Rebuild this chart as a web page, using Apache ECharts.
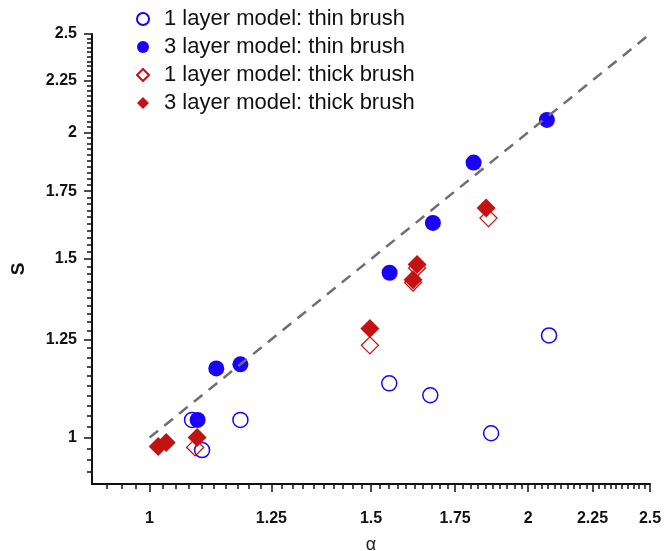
<!DOCTYPE html>
<html>
<head>
<meta charset="utf-8">
<script src="https://cdn.jsdelivr.net/npm/echarts@6/dist/echarts.min.js"></script>
<style>
  html, body { margin: 0; padding: 0; background: #fff; }
  #chart { width: 665px; height: 551px; }
</style>
</head>
<body>
<div id="chart"></div>
<script>
// data (alpha, S)
var thin1X = [1.081, 1.181, 1.101, 1.551, 1.672, 1.869, 2.078];
var thin1S = [1.041, 1.041, 0.972, 1.131, 1.101, 1.010, 1.261];
var thin3X = [1.092, 1.130, 1.181, 1.552, 1.680, 1.810, 2.070];
var thin3S = [1.041, 1.170, 1.181, 1.454, 1.628, 1.867, 2.057];
var thick1X = [1.087, 1.497, 1.620, 1.632, 1.860];
var thick1S = [0.978, 1.233, 1.422, 1.470, 1.646];
var thick3X = [1.016, 1.031, 1.091, 1.497, 1.620, 1.632, 1.852];
var thick3S = [0.980, 0.989, 1.000, 1.281, 1.431, 1.481, 1.684];
var refLine = [1, 2.5];

var majorTicks = [1, 1.25, 1.5, 1.75, 2, 2.25, 2.5];
var axisMin = 0.9, axisMax = 2.5;

var names = ['1 layer model: thin brush', '3 layer model: thin brush',
             '1 layer model: thick brush', '3 layer model: thick brush'];

// log axes are done with log10 of the values on a value axis
function lg(v) { return Math.log10(v); }
function pairs(xs, ys) { return xs.map(function (x, i) { return [lg(x), lg(ys[i])]; }); }

var minorTicks = [];
for (var t = 0.925; t < axisMax + 1e-9; t += 0.025) minorTicks.push(lg(+t.toFixed(3)));

var blue = '#1a00ff';
var red = '#c41212';
var font = 'Liberation Sans, Arial, sans-serif';

function mainAxis(isX) {
  return {
    type: 'value',
    min: lg(axisMin),
    max: lg(axisMax),
    name: isX ? 'α' : 'S',
    nameLocation: 'middle',
    nameGap: isX ? 52 : 64,
    nameTextStyle: isX
      ? { fontFamily: font, fontSize: 18, color: '#222' }
      : { fontFamily: font, fontSize: 19, fontWeight: 'bold', color: '#111', padding: [0, 20, 0, 0] },
    splitLine: { show: false },
    axisLine: { show: true, onZero: false, lineStyle: { color: '#111', width: 2 } },
    axisTick: { show: true, inside: false, length: 8, customValues: majorTicks.map(lg),
                lineStyle: { color: '#111', width: 1.5 } },
    axisLabel: {
      customValues: majorTicks.map(lg),
      margin: isX ? 27 : 15,
      fontFamily: font, fontSize: 16, fontWeight: 'bold', color: '#111',
      formatter: function (v) { return String(+Math.pow(10, v).toFixed(2)); }
    }
  };
}

function minorAxis(pos) {
  return {
    type: 'value',
    position: pos,
    min: lg(axisMin),
    max: lg(axisMax),
    splitLine: { show: false },
    axisLine: { show: false, onZero: false },
    axisLabel: { show: false },
    axisTick: { show: true, inside: false, length: 5, customValues: minorTicks,
                lineStyle: { color: '#111', width: 1.5 } }
  };
}

var chart = echarts.init(document.getElementById('chart'));

var option = {
  backgroundColor: '#fff',
  animation: false,
  grid: { left: 92, right: 15, top: 34, bottom: 67, containLabel: false, outerBoundsMode: 'none' },
  legend: {
    data: names,
    orient: 'vertical',
    left: 131,
    top: 3,
    itemGap: 6,
    itemWidth: 12,
    itemHeight: 12,
    textStyle: { fontFamily: font, fontSize: 22, color: '#111', padding: [0, 0, 0, 10] }
  },
  xAxis: [mainAxis(true), minorAxis('bottom')],
  yAxis: [mainAxis(false), minorAxis('left')],
  series: [
    {
      name: names[0], type: 'scatter', symbol: 'circle', symbolSize: 15, z: 2,
      itemStyle: { color: '#fff', borderColor: blue, borderWidth: 1.5, opacity: 1 },
      data: pairs(thin1X, thin1S)
    },
    {
      name: names[2], type: 'scatter', symbol: 'diamond', symbolSize: 17, z: 2,
      itemStyle: { color: 'rgba(255,255,255,0)', borderColor: red, borderWidth: 1.3, opacity: 1 },
      data: pairs(thick1X, thick1S)
    },
    {
      name: names[1], type: 'scatter', symbol: 'circle', symbolSize: 16, z: 3,
      itemStyle: { color: blue, opacity: 1 },
      data: pairs(thin3X, thin3S)
    },
    {
      name: names[3], type: 'scatter', symbol: 'diamond', symbolSize: 19, z: 3,
      itemStyle: { color: red, opacity: 1 },
      data: pairs(thick3X, thick3S)
    },
    {
      name: 'S = α', type: 'line', symbol: 'none', z: 5, silent: true,
      lineStyle: { color: '#6f6f6f', width: 2.5, type: [11, 8] },
      data: pairs(refLine, refLine)
    }
  ]
};

chart.setOption(option);
</script>
</body>
</html>
